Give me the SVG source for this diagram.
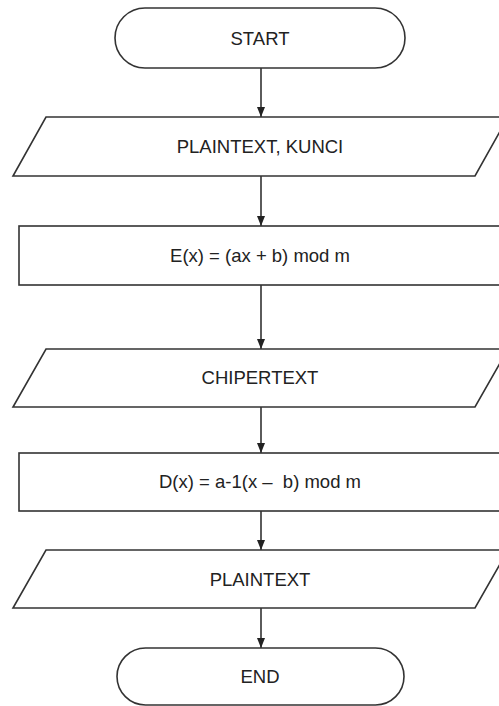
<svg xmlns="http://www.w3.org/2000/svg" width="499" height="706" viewBox="0 0 499 706">
<style>
.s{fill:#fff;stroke:#333;stroke-width:1.6}
.t{font-family:"Liberation Sans",Arial,sans-serif;font-size:18.5px;fill:#222;text-anchor:middle}
.c{stroke:#333;stroke-width:1.6;fill:none;marker-end:url(#ah)}
</style>
<defs>
<marker id="ah" viewBox="0 0 10 8" refX="10" refY="4" markerWidth="10" markerHeight="8" markerUnits="userSpaceOnUse" orient="auto">
<path d="M0,0 L10,4 L0,8 Z" fill="#222"/>
</marker>
</defs>
<rect width="499" height="706" fill="#fff"/>
<g id="connectors">
<line class="c" x1="261" y1="68" x2="261" y2="117"/>
<line class="c" x1="261" y1="176" x2="261" y2="226"/>
<line class="c" x1="261" y1="285" x2="261" y2="349"/>
<line class="c" x1="261" y1="407" x2="261" y2="453"/>
<line class="c" x1="261" y1="511" x2="261" y2="550"/>
<line class="c" x1="261" y1="608" x2="261" y2="648"/>
</g>
<g id="start">
<rect class="s" x="115" y="8" width="290" height="60" rx="30" ry="30"/>
<text class="t" x="260" y="45">START</text>
</g>
<g id="input1">
<polygon class="s" points="46,117 508,117 475,176 13,176"/>
<text class="t" x="260" y="153">PLAINTEXT, KUNCI</text>
</g>
<g id="encrypt">
<rect class="s" x="19" y="226" width="484" height="59"/>
<text class="t" x="260" y="262">E(x) = (ax + b) mod m</text>
</g>
<g id="output1">
<polygon class="s" points="46,349 508,349 475,407 13,407"/>
<text class="t" x="260" y="383.5">CHIPERTEXT</text>
</g>
<g id="decrypt">
<rect class="s" x="19" y="453" width="484" height="58"/>
<text class="t" x="260" y="488">D(x) = a-1(x –&#160; b) mod m</text>
</g>
<g id="output2">
<polygon class="s" points="46,550 508,550 475,608 13,608"/>
<text class="t" x="260" y="585.5">PLAINTEXT</text>
</g>
<g id="end">
<rect class="s" x="117" y="648" width="287" height="57" rx="28.5" ry="28.5"/>
<text class="t" x="260" y="683">END</text>
</g>
</svg>
